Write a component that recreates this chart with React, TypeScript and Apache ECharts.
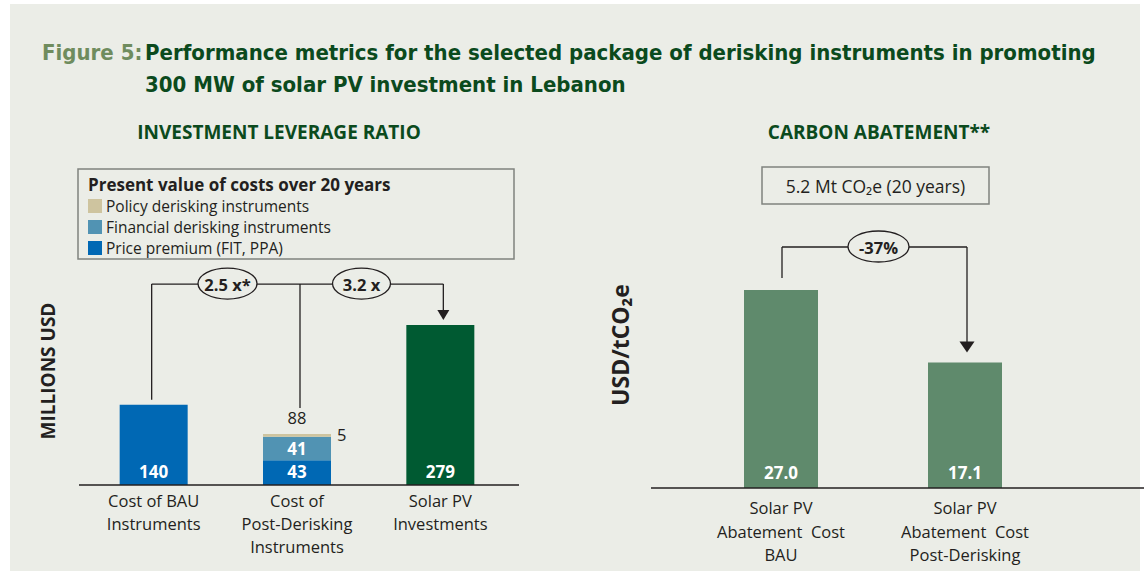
import React, { useEffect, useRef } from "react";
import * as echarts from "echarts";

// ---------- data ----------
const leftCategories = [
  "Cost of BAU\nInstruments",
  "Cost of\nPost-Derisking\nInstruments",
  "Solar PV\nInvestments",
];
const pricePremium = [140, 43, "-"];
const financialDerisking = ["-", 41, "-"];
const policyDerisking = ["-", 5, "-"];
const solarInvestment = ["-", "-", 279];
const postDeriskingTotalLabel = "88";
const leverageRatios = ["2.5 x*", "3.2 x"];

const rightCategories = [
  "Solar PV\nAbatement  Cost\nBAU",
  "Solar PV\nAbatement  Cost\nPost-Derisking",
];
const abatementCost = [27.0, 17.1];
const abatementChange = "-37%";
const abatementTotal = "5.2 Mt CO₂e (20 years)";

const legendNames = [
  "Policy derisking instruments",
  "Financial derisking instruments",
  "Price premium (FIT, PPA)",
];

// ---------- style ----------
const BG = "#EBEDE7";
const INK = "#231F20";
const BLUE = "#0068B4";
const TEAL = "#5193B3";
const BEIGE = "#CEC49F";
const DARKGREEN = "#005A32";
const MIDGREEN = "#5F8A6C";
const TITLEGREEN = "#0B4A1D";
const OLIVE = "#6F8C5E";
const FONT = "'Open Sans', 'Noto Sans', sans-serif";
const TITLEFONT = "'Liberation Sans Narrow', 'DejaVu Sans Condensed', 'Open Sans', sans-serif";

export default function App() {
  const ref = useRef<HTMLDivElement>(null);

  useEffect(() => {
    document.body.style.margin = "0";
    const chart = echarts.init(ref.current!, null, { renderer: "svg" });

    const insideLabel = (pos: string, dist = 5) => ({
      show: true,
      position: pos,
      distance: dist,
      color: "#fff",
      fontWeight: "bold",
      fontSize: 17,
      fontFamily: FONT,
    });

    chart.setOption({
      animation: false,
      backgroundColor: "#fff",
      textStyle: { fontFamily: FONT },
      grid: [
        { left: 82, top: 313, width: 430, height: 172, containLabel: false },
        { left: 689, top: 268, width: 368, height: 220, containLabel: false },
      ],
      legend: {
        data: legendNames,
        orient: "vertical",
        left: 88,
        top: 195.5,
        padding: 0,
        itemWidth: 14,
        itemHeight: 14,
        itemGap: 0,
        icon: "rect",
        selectedMode: false,
        textStyle: {
          fontSize: 15.5,
          lineHeight: 21,
          color: INK,
          fontFamily: FONT,
          padding: [0, 0, 0, -1],
        },
      },
      xAxis: [
        {
          type: "category",
          gridIndex: 0,
          data: leftCategories,
          axisLine: { show: false },
          axisTick: { show: false },
          axisLabel: { interval: 0, fontSize: 16.5, lineHeight: 23, color: INK, margin: 4, fontFamily: FONT },
        },
        {
          type: "category",
          gridIndex: 1,
          data: rightCategories,
          axisLine: { show: false },
          axisTick: { show: false },
          axisLabel: { interval: 0, fontSize: 16.5, lineHeight: 23.5, color: INK, margin: 8, fontFamily: FONT },
        },
      ],
      yAxis: [
        { type: "value", gridIndex: 0, min: 0, max: 300, show: false },
        { type: "value", gridIndex: 1, min: 0, max: 30, show: false },
      ],
      series: [
        {
          name: "Price premium (FIT, PPA)",
          type: "bar",
          stack: "cost",
          xAxisIndex: 0,
          yAxisIndex: 0,
          barWidth: 68,
          data: pricePremium,
          itemStyle: { color: BLUE },
          label: { ...insideLabel("insideBottom", 5) },
        },
        {
          name: "Financial derisking instruments",
          type: "bar",
          stack: "cost",
          xAxisIndex: 0,
          yAxisIndex: 0,
          barWidth: 68,
          data: financialDerisking,
          itemStyle: { color: TEAL },
          label: { ...insideLabel("inside") },
        },
        {
          name: "Policy derisking instruments",
          type: "bar",
          stack: "cost",
          xAxisIndex: 0,
          yAxisIndex: 0,
          barWidth: 68,
          data: policyDerisking,
          itemStyle: { color: BEIGE },
          label: {
            show: true,
            position: "right",
            distance: 6,
            offset: [0, -1],
            color: INK,
            fontSize: 16.5,
            fontFamily: FONT,
          },
        },
        {
          name: "Solar PV investments",
          type: "bar",
          stack: "cost",
          xAxisIndex: 0,
          yAxisIndex: 0,
          barWidth: 68,
          data: solarInvestment,
          itemStyle: { color: DARKGREEN },
          label: { ...insideLabel("insideBottom", 5) },
        },
        {
          name: "Abatement cost",
          type: "bar",
          xAxisIndex: 1,
          yAxisIndex: 1,
          barWidth: 74,
          data: abatementCost,
          itemStyle: { color: MIDGREEN },
          label: {
            ...insideLabel("insideBottom", 7),
            formatter: (p: any) => Number(p.value).toFixed(1),
          },
        },
      ],
    });

    const L = (i: number, v: number) =>
      chart.convertToPixel({ xAxisIndex: 0, yAxisIndex: 0 }, [i, v]) as number[];
    const R = (i: number, v: number) =>
      chart.convertToPixel({ xAxisIndex: 1, yAxisIndex: 1 }, [i, v]) as number[];

    const line = (x1: number, y1: number, x2: number, y2: number, w = 1.3) => ({
      type: "line",
      z: 5,
      shape: { x1, y1, x2, y2 },
      style: { stroke: INK, lineWidth: w },
      silent: true,
    });
    const arrow = (x: number, tipY: number, hw: number, h: number) => ({
      type: "polygon",
      z: 5,
      shape: { points: [[x - hw, tipY - h], [x + hw, tipY - h], [x, tipY]] },
      style: { fill: INK },
      silent: true,
    });
    const bubble = (cx: number, cy: number, rx: number, ry: number, text: string) => [
      {
        type: "ellipse",
        z: 6,
        shape: { cx, cy, rx, ry },
        style: { fill: BG, stroke: INK, lineWidth: 1.3 },
        silent: true,
      },
      {
        type: "text",
        z: 7,
        x: cx,
        y: cy + 0.5,
        style: {
          text,
          fill: INK,
          font: `bold 16.5px ${FONT}`,
          align: "center",
          verticalAlign: "middle",
        },
        silent: true,
      },
    ];
    const text = (x: number, y: number, t: string, opts: any = {}) => ({
      type: "text",
      z: 5,
      x,
      y,
      rotation: opts.rotation || 0,
      style: {
        text: t,
        fill: opts.fill || INK,
        font: opts.font || `16.5px ${FONT}`,
        align: opts.align || "left",
        verticalAlign: opts.verticalAlign || "middle",
      },
      silent: true,
    });

    // left pixel anchors
    const bau = L(0, pricePremium[0] as number);
    const postTotal = (pricePremium[1] as number) + (financialDerisking[1] as number) + (policyDerisking[1] as number);
    const post = L(1, postTotal);
    const solar = L(2, solarInvestment[2] as number);
    const leftBase = L(0, 0)[1];
    const bracketY = solar[1] - 41;

    // right pixel anchors
    const r0 = R(0, abatementCost[0]);
    const r1 = R(1, abatementCost[1]);
    const rightBase = R(0, 0)[1];
    const rBracketY = r0[1] - 43;

    const graphic: any[] = [
      {
        type: "rect",
        z: 0,
        shape: { x: 10, y: 4, width: 1130, height: 567 },
        style: { fill: BG },
        silent: true,
      },
      // main title
      text(42, 52, "Figure 5:", { font: `bold 22px ${TITLEFONT}`, fill: OLIVE }),
      text(145, 52, "Performance metrics for the selected package of derisking instruments in promoting", {
        font: `bold 22px ${TITLEFONT}`,
        fill: TITLEGREEN,
      }),
      text(145, 84, "300 MW of solar PV investment in Lebanon", {
        font: `bold 22px ${TITLEFONT}`,
        fill: TITLEGREEN,
      }),
      // panel titles
      text(279, 132, "INVESTMENT LEVERAGE RATIO", {
        font: `bold 19px ${FONT}`,
        fill: TITLEGREEN,
        align: "center",
      }),
      text(879, 132, "CARBON ABATEMENT**", {
        font: `bold 19px ${FONT}`,
        fill: TITLEGREEN,
        align: "center",
      }),
      // legend box
      {
        type: "rect",
        z: 3,
        shape: { x: 78, y: 169, width: 436, height: 90 },
        style: { fill: "none", stroke: "#80837F", lineWidth: 1.5 },
        silent: true,
      },
      text(88, 184, "Present value of costs over 20 years", { font: `bold 17px ${FONT}` }),
      // y axis names
      text(48, 371, "MILLIONS USD", { font: `bold 19px ${FONT}`, align: "center", rotation: Math.PI / 2 }),
      text(620, 345, "USD/tCO₂e", { font: `bold 23px ${FONT}`, align: "center", rotation: Math.PI / 2 }),
      // baselines
      line(79, leftBase, 519, leftBase, 1.5),
      line(651, rightBase, 1144, rightBase, 1.5),
      // total label
      text(post[0], post[1] - 16, postDeriskingTotalLabel, { align: "center" }),
      // left brackets
      line(bau[0] - 2, bau[1] - 5, bau[0] - 2, bracketY),
      line(bau[0] - 2, bracketY, solar[0] + 3, bracketY),
      line(post[0] + 3, bracketY, post[0] + 3, post[1] - 26),
      line(solar[0] + 3, bracketY, solar[0] + 3, solar[1] - 12),
      arrow(solar[0] + 3, solar[1] - 5, 6, 10),
      ...bubble(227.5, bracketY - 0.5, 29.5, 15.5, leverageRatios[0]),
      ...bubble(361.5, bracketY - 0.5, 29, 15.5, leverageRatios[1]),
      // abatement box
      {
        type: "rect",
        z: 3,
        shape: { x: 762, y: 167, width: 227, height: 37 },
        style: { fill: "none", stroke: "#80837F", lineWidth: 1.5 },
        silent: true,
      },
      text(875.5, 185.5, abatementTotal, { align: "center", font: `17.5px ${FONT}` }),
      // right bracket
      line(r0[0] + 1, r0[1] - 12, r0[0] + 1, rBracketY),
      line(r0[0] + 1, rBracketY, r1[0] + 2, rBracketY),
      line(r1[0] + 2, rBracketY, r1[0] + 2, r1[1] - 18),
      arrow(r1[0] + 2, r1[1] - 10, 7.5, 11),
      ...bubble(878.5, rBracketY - 0.5, 30.5, 15.5, abatementChange),
    ];

    chart.setOption({ graphic });

    return () => chart.dispose();
  }, []);

  return <div ref={ref} style={{ width: 1144, height: 571 }} />;
}
